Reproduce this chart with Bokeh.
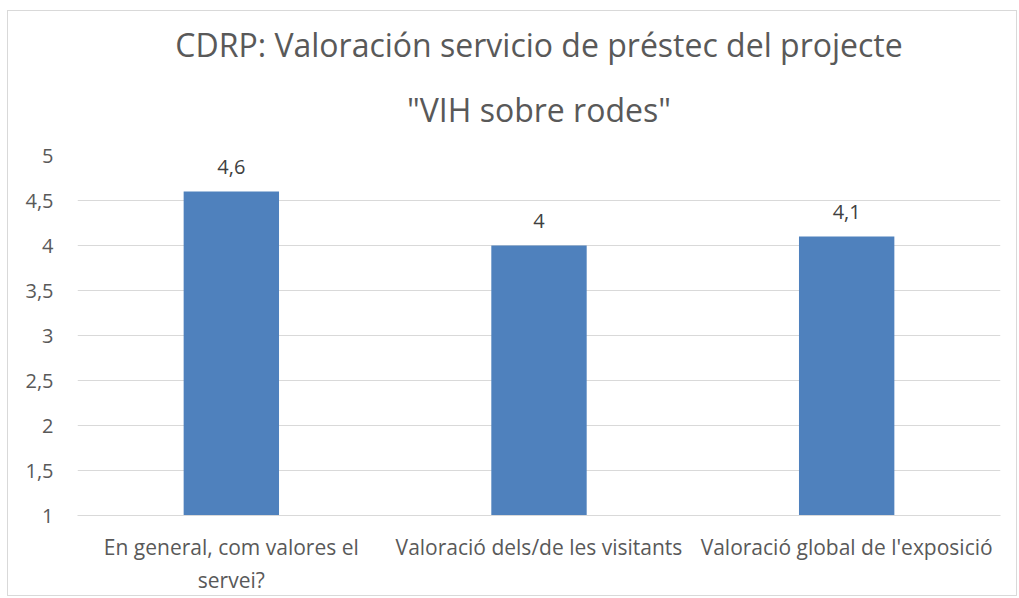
from bokeh.plotting import figure
from bokeh.models import (ColumnDataSource, Range1d, FixedTicker, LabelSet, Title)
from bokeh.core.properties import value
from bokeh.embed import file_html
from bokeh.resources import INLINE

# ---- data ----
categories = ["En general, com valores el servei?",
              "Valoració dels/de les visitants",
              "Valoració global de l'exposició"]
category_labels = ["En general, com valores el\nservei?",
                   "Valoració dels/de les visitants",
                   "Valoració global de l'exposició"]
scores = [4.6, 4.0, 4.1]
score_labels = ["4,6", "4", "4,1"]
y_ticks = [1, 1.5, 2, 2.5, 3, 3.5, 4, 4.5, 5]
title_lines = ["CDRP: Valoración servicio de préstec del projecte",
               "\"VIH sobre rodes\""]

FONT = "Open Sans"
GREY = "#595959"

xpos = list(range(len(categories)))

W, H = 1010, 586
p = figure(width=W, height=H, x_range=Range1d(-0.5, len(categories) - 0.5),
           y_range=Range1d(1, 5),
           output_backend="svg", toolbar_location=None,
           min_border_left=69, min_border_right=18,
           min_border_top=144, min_border_bottom=81)
p.margin = (10, 0, 0, 7)
p.styles = {"border": "1px solid #d9d9d9"}
p.outline_line_color = None

# title: two centred lines (default title is the outer/top line)
p.title.text = title_lines[0]
p.title.align = "center"
p.title.text_font = FONT
p.title.text_font_size = "32px"
p.title.text_font_style = "normal"
p.title.text_color = GREY
p.title.standoff = -10
p.add_layout(Title(text=title_lines[1], align="center", text_font=FONT,
                   text_font_size="32px", text_font_style="normal",
                   text_color=GREY, standoff=50), "above")

src = ColumnDataSource(dict(x=xpos, val=scores, lab=score_labels))
p.vbar(x="x", top="val", bottom=1, width=0.31, source=src,
       fill_color="#4F81BD", line_color=None)

p.add_layout(LabelSet(x="x", y="val", text="lab", source=src,
                      text_align="center", text_baseline="alphabetic", y_offset=18,
                      text_font=value(FONT), text_font_size="20px",
                      text_color="#404040"))

# y axis
p.yaxis.ticker = FixedTicker(ticks=y_ticks)
p.yaxis.major_label_overrides = {t: str(t).replace(".", ",") for t in y_ticks}
p.yaxis.axis_line_color = None
p.yaxis.major_tick_line_color = None
p.yaxis.minor_tick_line_color = None
p.yaxis.major_tick_out = 0
p.yaxis.major_tick_in = 0
p.yaxis.major_label_standoff = 24
p.yaxis.major_label_text_font = FONT
p.yaxis.major_label_text_font_size = "20px"
p.yaxis.major_label_text_color = GREY

# x axis
p.xaxis.ticker = FixedTicker(ticks=xpos)
p.xaxis.major_label_overrides = {i: t for i, t in zip(xpos, category_labels)}
p.xaxis.axis_line_color = "#d9d9d9"
p.xaxis.major_tick_line_color = None
p.xaxis.minor_tick_line_color = None
p.xaxis.major_tick_out = 0
p.xaxis.major_tick_in = 0
p.xaxis.major_label_standoff = 17
p.xaxis.major_label_text_font = FONT
p.xaxis.major_label_text_font_size = "21px"
p.xaxis.major_label_text_color = GREY

p.xgrid.grid_line_color = None
p.ygrid.grid_line_color = "#d9d9d9"
p.ygrid.grid_line_width = 1

open("out.html", "w").write(file_html(p, INLINE))
